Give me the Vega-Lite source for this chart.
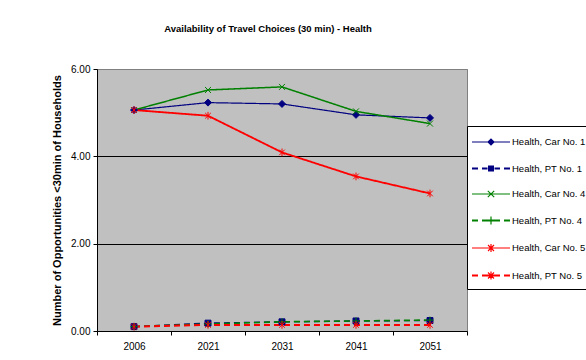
{
  "$schema": "https://vega.github.io/schema/vega-lite/v6.json",
  "width": 370,
  "height": 262,
  "autosize": "none",
  "padding": {"left": 97, "top": 69, "right": 119, "bottom": 29},
  "background": "white",
  "config": {
    "view": {"stroke": "#808080", "strokeWidth": 1, "fill": "#C0C0C0"},
    "font": "Liberation Sans",
    "legend": {
      "orient": "none",
      "legendX": 370,
      "legendY": 57,
      "title": null,
      "strokeColor": "black",
      "fillColor": "white",
      "padding": 5,
      "labelFont": "Liberation Sans",
      "labelFontSize": 9.5,
      "labelColor": "black",
      "labelLimit": 200,
      "labelOffset": 10,
      "symbolOffset": 8,
      "symbolSize": 400,
      "symbolStrokeWidth": 1.3,
      "symbolOpacity": 1,
      "rowPadding": 8.5
    }
  },
  "title": {
    "text": "Availability of Travel Choices (30 min) - Health",
    "font": "Liberation Sans",
    "fontSize": 9.5,
    "fontWeight": "bold",
    "color": "black",
    "anchor": "middle",
    "dx": -14,
    "offset": 31
  },
  "data": {
    "values": [
      {"series": "Health, Car No. 1", "year": "2006", "value": 5.06},
      {"series": "Health, Car No. 1", "year": "2021", "value": 5.23},
      {"series": "Health, Car No. 1", "year": "2031", "value": 5.2},
      {"series": "Health, Car No. 1", "year": "2041", "value": 4.95},
      {"series": "Health, Car No. 1", "year": "2051", "value": 4.88},
      {"series": "Health, PT No. 1", "year": "2006", "value": 0.1},
      {"series": "Health, PT No. 1", "year": "2021", "value": 0.18},
      {"series": "Health, PT No. 1", "year": "2031", "value": 0.21},
      {"series": "Health, PT No. 1", "year": "2041", "value": 0.23},
      {"series": "Health, PT No. 1", "year": "2051", "value": 0.24},
      {"series": "Health, Car No. 4", "year": "2006", "value": 5.06},
      {"series": "Health, Car No. 4", "year": "2021", "value": 5.52},
      {"series": "Health, Car No. 4", "year": "2031", "value": 5.59},
      {"series": "Health, Car No. 4", "year": "2041", "value": 5.03},
      {"series": "Health, Car No. 4", "year": "2051", "value": 4.75},
      {"series": "Health, PT No. 4", "year": "2006", "value": 0.1},
      {"series": "Health, PT No. 4", "year": "2021", "value": 0.16},
      {"series": "Health, PT No. 4", "year": "2031", "value": 0.21},
      {"series": "Health, PT No. 4", "year": "2041", "value": 0.23},
      {"series": "Health, PT No. 4", "year": "2051", "value": 0.25},
      {"series": "Health, Car No. 5", "year": "2006", "value": 5.06},
      {"series": "Health, Car No. 5", "year": "2021", "value": 4.93},
      {"series": "Health, Car No. 5", "year": "2031", "value": 4.09},
      {"series": "Health, Car No. 5", "year": "2041", "value": 3.54},
      {"series": "Health, Car No. 5", "year": "2051", "value": 3.15},
      {"series": "Health, PT No. 5", "year": "2006", "value": 0.1},
      {"series": "Health, PT No. 5", "year": "2021", "value": 0.14},
      {"series": "Health, PT No. 5", "year": "2031", "value": 0.14},
      {"series": "Health, PT No. 5", "year": "2041", "value": 0.14},
      {"series": "Health, PT No. 5", "year": "2051", "value": 0.14}
    ]
  },
  "encoding": {
    "x": {
      "field": "year",
      "type": "ordinal",
      "scale": {"type": "band", "paddingInner": 0, "paddingOuter": 0},
      "axis": {
        "title": null,
        "labelAngle": 0,
        "labelFont": "Liberation Sans",
        "labelFontSize": 10,
        "labelColor": "black",
        "labelPadding": 6,
        "domainColor": "black",
        "tickColor": "black",
        "tickSize": 4,
        "tickBand": "extent",
        "grid": false
      }
    },
    "y": {
      "field": "value",
      "type": "quantitative",
      "scale": {"domain": [0, 6], "nice": false},
      "axis": {
        "title": "Number of Opportunities <30min of Households",
        "titleFont": "Liberation Sans",
        "titleFontSize": 11,
        "titleFontWeight": "bold",
        "titleColor": "black",
        "titlePadding": 8,
        "values": [0, 2, 4, 6],
        "format": ".2f",
        "labelFont": "Liberation Sans",
        "labelFontSize": 10,
        "labelColor": "black",
        "labelPadding": 3,
        "tickColor": "black",
        "tickSize": 4,
        "domainColor": "black",
        "grid": true,
        "gridColor": {"condition": {"test": "datum.value === 6 || datum.value === 0", "value": "#808080"}, "value": "black"},
        "gridOpacity": 1
      }
    },
    "stroke": {
      "field": "series",
      "type": "nominal",
      "scale": {
        "domain": ["Health, Car No. 1", "Health, PT No. 1", "Health, Car No. 4", "Health, PT No. 4", "Health, Car No. 5", "Health, PT No. 5"],
        "range": ["#000080", "#000080", "#008000", "#008000", "#FF0000", "#FF0000"]
      }
    }
  },
  "resolve": {
    "scale": {"shape": "independent", "fill": "independent", "strokeWidth": "independent"},
    "legend": {"shape": "independent", "fill": "independent", "strokeWidth": "independent"}
  },
  "layer": [
    {
      "mark": {"type": "line"},
      "encoding": {
        "strokeDash": {
          "field": "series",
          "type": "nominal",
          "scale": {
            "domain": ["Health, Car No. 1", "Health, PT No. 1", "Health, Car No. 4", "Health, PT No. 4", "Health, Car No. 5", "Health, PT No. 5"],
            "range": [[1, 0], [6, 4], [1, 0], [6, 4], [1, 0], [6, 4]]
          },
          "legend": null
        },
        "strokeWidth": {
          "field": "series",
          "type": "nominal",
          "scale": {
            "domain": ["Health, Car No. 1", "Health, PT No. 1", "Health, Car No. 4", "Health, PT No. 4", "Health, Car No. 5", "Health, PT No. 5"],
            "range": [1.2, 2, 1, 2, 1, 2]
          },
          "legend": null
        }
      }
    },
    {
      "mark": {"type": "point", "size": 49, "strokeWidth": 1, "opacity": 1},
      "encoding": {
        "shape": {
          "field": "series",
          "type": "nominal",
          "scale": {
            "domain": ["Health, Car No. 1", "Health, PT No. 1", "Health, Car No. 4", "Health, PT No. 4", "Health, Car No. 5", "Health, PT No. 5"],
            "range": [
              "M0,-1L1,0L0,1L-1,0Z",
              "M-0.85,-0.85H0.85V0.85H-0.85Z",
              "M-0.85,-0.85L0.85,0.85M-0.85,0.85L0.85,-0.85",
              "M-1,0H1M0,-1V1",
              "M-0.8,-0.8L0.8,0.8M-0.8,0.8L0.8,-0.8M0,-1.1V1.1",
              "M-0.8,-0.8L0.8,0.8M-0.8,0.8L0.8,-0.8M0,-1.1V1.1"
            ]
          },
          "legend": null
        },
        "fill": {
          "field": "series",
          "type": "nominal",
          "scale": {
            "domain": ["Health, Car No. 1", "Health, PT No. 1", "Health, Car No. 4", "Health, PT No. 4", "Health, Car No. 5", "Health, PT No. 5"],
            "range": ["#000080", "#000080", "transparent", "transparent", "transparent", "transparent"]
          },
          "legend": null
        }
      }
    },
    {
      "transform": [{"filter": "false"}],
      "mark": {"type": "point", "filled": false, "size": 400, "strokeWidth": 1.3, "opacity": 1},
      "encoding": {
        "fill": {
          "field": "series",
          "type": "nominal",
          "scale": {
            "domain": ["Health, Car No. 1", "Health, PT No. 1", "Health, Car No. 4", "Health, PT No. 4", "Health, Car No. 5", "Health, PT No. 5"],
            "range": ["#000080", "#000080", "#008000", "#008000", "#FF0000", "#FF0000"]
          }
        },
        "strokeWidth": {
          "field": "series",
          "type": "nominal",
          "scale": {
            "domain": ["Health, Car No. 1", "Health, PT No. 1", "Health, Car No. 4", "Health, PT No. 4", "Health, Car No. 5", "Health, PT No. 5"],
            "range": [1.2, 2, 1.2, 2, 1.2, 2]
          }
        },
        "shape": {
          "field": "series",
          "type": "nominal",
          "scale": {
            "domain": ["Health, Car No. 1", "Health, PT No. 1", "Health, Car No. 4", "Health, PT No. 4", "Health, Car No. 5", "Health, PT No. 5"],
            "range": [
              "M-1.9,-0.06H1.9V0.06H-1.9ZM0,-0.38L0.38,0L0,0.38L-0.38,0Z",
              "M-1.9,-0.1H-1.3V0.1H-1.9ZM-0.9,-0.1H-0.35V0.1H-0.9ZM0.35,-0.1H0.9V0.1H0.35ZM1.3,-0.1H1.9V0.1H1.3ZM-0.3,-0.3H0.3V0.3H-0.3Z",
              "M-1.9,-0.06H1.9V0.06H-1.9ZM-0.36,-0.28L-0.28,-0.36L0.36,0.28L0.28,0.36ZM-0.36,0.28L0.28,-0.36L0.36,-0.28L-0.28,0.36Z",
              "M-1.9,-0.1H-1.3V0.1H-1.9ZM-0.9,-0.1H-0.35V0.1H-0.9ZM0.35,-0.1H0.9V0.1H0.35ZM1.3,-0.1H1.9V0.1H1.3ZM-0.38,-0.1H0.38V0.1H-0.38ZM-0.06,-0.4H0.06V0.4H-0.06Z",
              "M-1.9,-0.06H1.9V0.06H-1.9ZM-0.34,-0.26L-0.26,-0.34L0.34,0.26L0.26,0.34ZM-0.34,0.26L0.26,-0.34L0.34,-0.26L-0.26,0.34ZM-0.06,-0.4H0.06V0.4H-0.06Z",
              "M-1.9,-0.1H-1.3V0.1H-1.9ZM-0.9,-0.1H-0.35V0.1H-0.9ZM0.35,-0.1H0.9V0.1H0.35ZM1.3,-0.1H1.9V0.1H1.3ZM-0.38,-0.1H0.38V0.1H-0.38ZM-0.34,-0.26L-0.26,-0.34L0.34,0.26L0.26,0.34ZM-0.34,0.26L0.26,-0.34L0.34,-0.26L-0.26,0.34ZM-0.06,-0.4H0.06V0.4H-0.06Z"
            ]
          }
        }
      }
    }
  ]
}
